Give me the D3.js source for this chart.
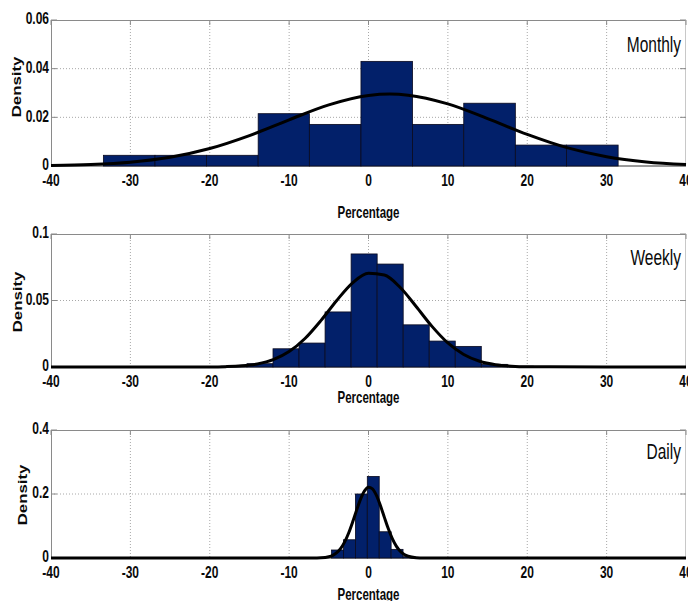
<!DOCTYPE html>
<html><head><meta charset="utf-8">
<script src="https://cdn.jsdelivr.net/npm/d3@7"></script>
<style>body{margin:0;background:#fff}svg{display:block}</style>
</head><body><svg id="c" width="688" height="601"></svg>
<script>
// ---------- data ----------
const xTicks = [-40, -30, -20, -10, 0, 10, 20, 30, 40];
const panelNames = ["Monthly", "Weekly", "Daily"];

const monthlyEdges = [-33.4, -26.9, -20.4, -13.9, -7.45, -0.95, 5.55, 12.0, 18.5, 24.95, 31.45];
const monthlyDensity = [0.0044, 0.0044, 0.0044, 0.0215, 0.0171, 0.043, 0.0171, 0.0258, 0.0086, 0.0086];
const monthlyCurveX = [-40, -35, -30, -25, -20, -15, -10, -5, 0, 2.7, 5, 10, 15, 20, 25, 30, 35, 40];
const monthlyCurveY = [0.0002, 0.0006, 0.00157, 0.0036, 0.00719, 0.01251, 0.01898, 0.02511, 0.02896, 0.02955, 0.02912, 0.02553, 0.01951, 0.013, 0.00755, 0.00382, 0.00169, 0.00065];
const monthlyYTicks = [0, 0.02, 0.04, 0.06];
const monthlyYLabels = ["0", "0.02", "0.04", "0.06"];

const weeklyEdges = [-18.59, -15.31, -12.03, -8.75, -5.47, -2.19, 1.09, 4.37, 7.65, 10.93, 14.21, 17.49, 20.77];
const weeklyDensity = [0.0006, 0.0025, 0.0137, 0.018, 0.0414, 0.085, 0.0774, 0.0317, 0.0195, 0.0155, 0.002, 0.0006];
const weeklyCurveX = [-40, -30, -20, -18, -16, -14, -12, -10, -8, -6, -4, -2, 0, 2, 4, 6, 8, 10, 12, 14, 16, 18, 20, 30, 40];
const weeklyCurveY = [0, 0, 0.00008, 0.00028, 0.00086, 0.00232, 0.00552, 0.0116, 0.02143, 0.03488, 0.05005, 0.06326, 0.07045, 0.06913, 0.05975, 0.04551, 0.03054, 0.01806, 0.0094, 0.00431, 0.00175, 0.00062, 0.0002, 0, 0];
const weeklyYTicks = [0, 0.05, 0.1];
const weeklyYLabels = ["0", "0.05", "0.1"];

const dailyEdges = [-15.15, -13.65, -12.15, -10.65, -9.15, -7.65, -6.15, -4.65, -3.15, -1.65, -0.15, 1.35, 2.85, 4.35, 5.85, 7.35, 8.85, 10.35, 11.85, 13.35, 14.85];
const dailyDensity = [0, 0, 0, 0, 0, 0, 0, 0.025, 0.057, 0.2, 0.255, 0.082, 0.027, 0.004, 0, 0, 0, 0, 0, 0];
const dailyCurveX = [-40, -20, -10, -7, -6, -5, -4.5, -4, -3.5, -3, -2.5, -2, -1.5, -1, -0.5, 0, 0.5, 1, 1.5, 2, 2.5, 3, 3.5, 4, 4.5, 5, 6, 7, 10, 20, 40];
const dailyCurveY = [0, 0, 0, 0.00009, 0.00071, 0.004, 0.00846, 0.01656, 0.02999, 0.0503, 0.0781, 0.1122, 0.1493, 0.1839, 0.2096, 0.2213, 0.2162, 0.1956, 0.1638, 0.127, 0.0911, 0.0605, 0.0372, 0.0212, 0.0112, 0.00545, 0.00103, 0.00014, 0, 0, 0];
const dailyYTicks = [0, 0.2, 0.4];
const dailyYLabels = ["0", "0.2", "0.4"];

// ---------- layout ----------
const W = 688, H = 601;
const xLeft = 51, xRight = 686;
const panels = [
  {name: panelNames[0], edges: monthlyEdges, dens: monthlyDensity, cx: monthlyCurveX, cy: monthlyCurveY,
   yTicks: monthlyYTicks, yLabels: monthlyYLabels, top: 20, bot: 166, titleY: 52, xlabY: 218, densX: 17, densY: 87},
  {name: panelNames[1], edges: weeklyEdges, dens: weeklyDensity, cx: weeklyCurveX, cy: weeklyCurveY,
   yTicks: weeklyYTicks, yLabels: weeklyYLabels, top: 234, bot: 367, titleY: 265, xlabY: 403, densX: 18, densY: 302},
  {name: panelNames[2], edges: dailyEdges, dens: dailyDensity, cx: dailyCurveX, cy: dailyCurveY,
   yTicks: dailyYTicks, yLabels: dailyYLabels, top: 430, bot: 558, titleY: 459, xlabY: 600, densX: 23, densY: 495}
];

const svg = d3.select("#c");
const FONT = "'Liberation Sans', Arial, sans-serif";
const SY = 1.4;
const barFill = "#02206a";
const gridCol = "#a8a8a8";
const boxCol = "#8a8a8a";

function sText(g, x, y, str, size, weight, anchor, rot) {
  return g.append("g")
    .attr("transform", `translate(${x},${y}) scale(1,${SY})` + (rot ? " rotate(-90)" : ""))
    .append("text")
    .attr("font-family", FONT)
    .attr("font-size", size)
    .attr("font-weight", weight)
    .attr("text-anchor", anchor)
    .attr("fill", "#0a0a0a")
    .text(str);
}

const x = d3.scaleLinear().domain([-40, 40]).range([xLeft, xRight]);

panels.forEach(p => {
  const yMax = p.yTicks[p.yTicks.length - 1];
  const y = d3.scaleLinear().domain([0, yMax]).range([p.bot, p.top]);
  const g = svg.append("g");

  // grid
  g.selectAll("line.vg").data(xTicks.slice(1, -1)).join("line")
    .attr("x1", d => x(d)).attr("x2", d => x(d))
    .attr("y1", p.top).attr("y2", p.bot)
    .attr("stroke", gridCol).attr("stroke-width", 1).attr("stroke-dasharray", "1,2");
  g.selectAll("line.hg").data(p.yTicks.slice(1, -1)).join("line")
    .attr("x1", xLeft).attr("x2", xRight)
    .attr("y1", d => y(d)).attr("y2", d => y(d))
    .attr("stroke", gridCol).attr("stroke-width", 1).attr("stroke-dasharray", "1,2");

  // box
  g.append("line").attr("x1", xLeft).attr("x2", xRight).attr("y1", p.top + 0.5).attr("y2", p.top + 0.5).attr("stroke", boxCol);
  g.append("line").attr("x1", xLeft + 0.5).attr("x2", xLeft + 0.5).attr("y1", p.top).attr("y2", p.bot).attr("stroke", boxCol);
  g.append("line").attr("x1", xRight - 0.5).attr("x2", xRight - 0.5).attr("y1", p.top).attr("y2", p.bot).attr("stroke", "#c8c8c8");
  g.append("line").attr("x1", xLeft).attr("x2", xRight).attr("y1", p.bot).attr("y2", p.bot).attr("stroke", "#333");

  // inward ticks
  g.selectAll("line.lt").data(p.yTicks).join("line")
    .attr("x1", xLeft).attr("x2", xLeft + 6).attr("y1", d => y(d)).attr("y2", d => y(d)).attr("stroke", boxCol);
  g.selectAll("line.rt").data(p.yTicks).join("line")
    .attr("x1", xRight - 6).attr("x2", xRight).attr("y1", d => y(d)).attr("y2", d => y(d)).attr("stroke", boxCol);
  g.selectAll("line.tt").data(xTicks).join("line")
    .attr("x1", d => x(d)).attr("x2", d => x(d)).attr("y1", p.top).attr("y2", p.top + 5).attr("stroke", boxCol);

  // bars
  const bins = p.dens.map((d, i) => ({x0: p.edges[i], x1: p.edges[i + 1], v: d}));
  g.selectAll("rect.bar").data(bins).join("rect")
    .attr("x", d => x(d.x0)).attr("width", d => x(d.x1) - x(d.x0))
    .attr("y", d => y(d.v)).attr("height", d => p.bot - y(d.v))
    .attr("fill", barFill).attr("stroke", "#0a0a1e").attr("stroke-width", 0.8);

  // fitted curve
  const pts = p.cx.map((v, i) => [v, p.cy[i]]);
  g.append("path").datum(pts)
    .attr("d", d3.line().x(d => x(d[0])).y(d => y(d[1])).curve(d3.curveMonotoneX))
    .attr("fill", "none").attr("stroke", "#000").attr("stroke-width", 3).attr("stroke-linejoin", "round");

  // tick labels
  xTicks.forEach(t => sText(g, x(t), p.bot + 20, String(t), 12, "bold", "middle"));
  p.yTicks.forEach((t, i) => sText(g, xLeft - 2, y(t) + 4.3, p.yLabels[i], 12, "bold", "end"));

  // labels
  sText(g, 681, p.titleY, p.name, 15.5, "normal", "end");
  sText(g, x(0), p.xlabY, "Percentage", 11.5, "bold", "middle");
  sText(g, p.densX + 4.3, p.densY, "Density", 12, "bold", "middle", true);
});
</script>
</body></html>
